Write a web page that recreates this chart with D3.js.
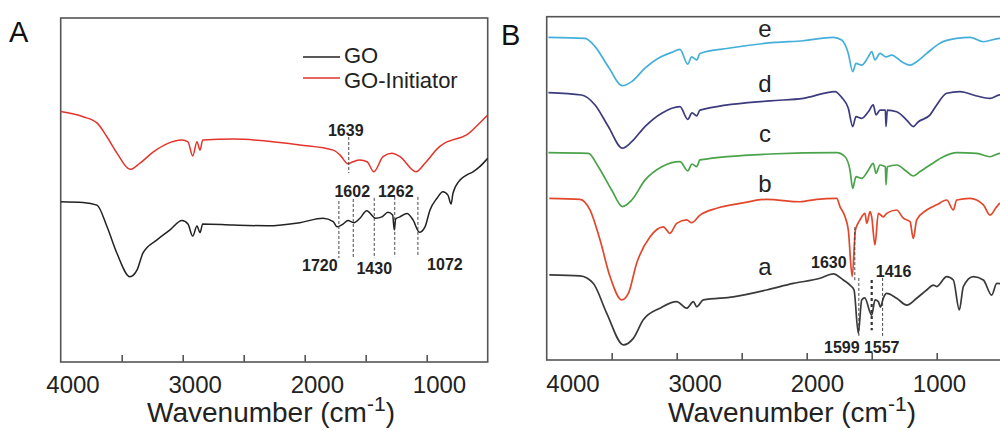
<!DOCTYPE html>
<html>
<head>
<meta charset="utf-8">
<script src="https://cdn.jsdelivr.net/npm/d3@7"></script>
<style>
  body { margin: 0; background: #fff; }
  svg { display: block; font-family: "Liberation Sans", Arial, sans-serif; }
</style>
</head>
<body>
<div id="chart"></div>
<script>
// FTIR spectra, [wavenumber, transmittance (a.u.)]
var goSpectrum = [[4000,46.6],[3817,46.4],[3703,45.6],[3620,39.3],[3540,31.7],[3432,24.8],[3375,26.7],[3325,31.7],
  [3211,35.5],[3104,38.4],[3006,41.1],[2957,40.1],[2918,36.6],[2883,39.5],[2858,37.6],[2836,40.1],[2586,39.8],
  [2309,39.6],[2040,40.5],[1850,41.8],[1766,40.8],[1735,39.3],[1686,40.1],[1645,41.1],[1597,40.5],[1547,41.8],
  [1492,44.0],[1418,41.8],[1367,42.2],[1318,43.5],[1279,42.7],[1266,38.4],[1254,41.6],[1219,42.2],[1161,43.2],
  [1112,41.3],[1060,37.7],[1014,39.3],[973,44.2],[916,47.6],[867,49.5],[826,48.5],[800,45.9],[785,49.0],
  [727,52.9],[670,54.4],[621,55.3],[565,56.8],[500,59.2]];
var goInitSpectrum = [[4000,72.8],[3817,71.3],[3703,69.5],[3620,65.4],[3540,60.8],[3432,56.0],[3350,57.8],[3243,61.0],
  [3130,63.4],[3006,64.5],[2957,64.0],[2918,59.9],[2883,64.0],[2858,61.6],[2836,64.5],[2586,64.8],[2040,63.1],
  [1766,61.6],[1711,60.2],[1645,57.6],[1604,58.2],[1547,58.7],[1489,58.2],[1433,55.3],[1358,59.7],[1285,60.7],
  [1219,59.7],[1088,55.3],[1014,57.8],[895,62.6],[835,64.0],[793,64.5],[673,66.0],[565,69.5],[500,71.8]];

var specA = [[3980,24.8],[3744,24.5],[3641,22.3],[3538,13.6],[3410,4.4],[3334,6.3],[3257,11.7],[3128,15.1],[3000,17.0],
  [2923,15.1],[2872,17.0],[2846,15.5],[2795,17.5],[2564,18.4],[2308,20.4],[2103,22.3],[1897,23.8],[1795,25.1],
  [1718,23.3],[1667,21.8],[1636,20.4],[1603,7.8],[1577,17.5],[1554,18.1],[1500,13.1],[1474,17.5],[1449,17.0],
  [1433,15.4],[1410,18.1],[1385,19.4],[1308,18.0],[1231,16.0],[1154,18.0],[1077,20.4],[1026,21.8],[1000,21.4],
  [923,24.3],[872,23.3],[826,14.6],[795,21.4],[718,24.3],[641,23.3],[577,18.9],[538,22.3],[450,22.0]];
var specB = [[3980,47.1],[3744,46.8],[3667,43.7],[3590,35.0],[3513,24.3],[3423,17.5],[3372,19.4],[3308,28.2],[3205,35.9],
  [3103,38.8],[3052,36.9],[3000,39.8],[2923,40.8],[2885,40.0],[2821,42.2],[2692,44.2],[2513,45.6],[2308,46.8],
  [2051,46.1],[1923,46.8],[1769,47.1],[1744,44.7],[1705,41.7],[1680,37.9],[1650,24.3],[1625,37.9],[1590,40.8],
  [1552,42.7],[1538,39.8],[1513,43.2],[1500,41.7],[1475,33.5],[1449,42.7],[1411,41.7],[1385,42.7],[1308,43.7],
  [1257,41.3],[1205,40.3],[1180,35.4],[1154,40.8],[1077,43.7],[1000,45.2],[923,46.6],[872,43.7],[846,46.6],
  [744,47.1],[641,45.2],[590,42.2],[538,44.7],[513,45.6],[450,45.0]];
var specC = [[3987,60.4],[3680,60.2],[3603,56.3],[3500,49.5],[3418,44.7],[3346,46.6],[3244,52.4],[3115,56.3],[2975,57.8],
  [2915,55.1],[2882,57.1],[2846,56.3],[2821,58.3],[2282,60.0],[1769,60.4],[1705,59.2],[1667,55.3],[1646,50.0],
  [1621,53.4],[1577,52.9],[1526,55.3],[1488,57.3],[1467,54.4],[1436,56.8],[1395,56.3],[1390,51.0],[1380,56.3],
  [1308,56.8],[1231,54.9],[1180,53.6],[1128,54.9],[1051,56.8],[949,59.2],[846,60.4],[692,60.2],[590,59.2],
  [515,60.2],[450,60.0]];
var specD = [[3987,77.9],[3731,77.2],[3628,74.3],[3526,68.0],[3418,61.7],[3346,63.6],[3244,68.0],[3115,71.9],[2975,73.8],
  [2915,70.1],[2882,72.0],[2846,71.1],[2821,72.8],[2282,75.5],[2026,76.2],[1782,78.2],[1731,76.5],[1680,73.3],
  [1646,68.0],[1621,70.9],[1577,70.4],[1526,72.3],[1488,74.3],[1467,71.4],[1436,72.8],[1395,72.8],[1390,68.0],
  [1380,72.8],[1308,72.3],[1231,69.9],[1180,68.0],[1141,69.4],[1051,71.4],[1000,74.3],[923,77.7],[821,78.2],
  [692,76.9],[590,76.2],[515,77.2],[450,77.0]];
var specE = [[3987,94.0],[3705,93.7],[3628,91.3],[3526,85.4],[3418,79.9],[3346,81.1],[3244,85.0],[3142,87.9],[3038,89.6],
  [2975,90.5],[2915,86.2],[2885,88.3],[2846,87.4],[2821,89.3],[2603,90.8],[2244,92.5],[2026,93.0],[1795,94.0],
  [1731,93.2],[1680,89.3],[1646,84.0],[1621,86.4],[1577,85.9],[1526,88.3],[1500,89.8],[1475,87.4],[1436,89.3],
  [1390,88.3],[1346,88.8],[1269,86.9],[1205,85.9],[1154,86.9],[1077,89.3],[975,92.3],[846,93.7],[744,94.0],
  [641,92.7],[515,93.7],[450,93.5]];

var seriesNamesA = ["GO", "GO-Initiator"];
var sampleNamesB = ["a", "b", "c", "d", "e"];
var sampleLabelT = [24.8, 49.0, 63.5, 78.1, 94.1];

var tickMarks = [3500, 3000, 2500, 2000, 1500, 1000];
var tickLabels = [4000, 3000, 2000, 1000];

// peak marks: line wavenumber, label, line top/bottom and label baseline (a.u.), label dx (px)
var peaksA = [
  {wn: 1639, text: "1639", top: 65.4, bottom: 54.9, ly: 65.6, dx: -3},
  {wn: 1720, text: "1720", top: 46.8, bottom: 30.2, ly: 26.5, dx: -19},
  {wn: 1602, text: "1602", top: 47.4, bottom: 30.2, ly: 48.0, dx: -1},
  {wn: 1430, text: "1430", top: 47.7, bottom: 30.2, ly: 25.6, dx: 0},
  {wn: 1262, text: "1262", top: 48.0, bottom: 30.5, ly: 48.0, dx: 1},
  {wn: 1072, text: "1072", top: 48.0, bottom: 31.1, ly: 26.7, dx: 27}
];
var peaksB = [
  {wn: 1630, text: "1630", top: 38.7, bottom: 22.7, ly: 26.9, dx: -26, thick: false},
  {wn: 1599, text: "1599", top: 23.9, bottom: 6.7, ly: 2.1, dx: -17, thick: false},
  {wn: 1500, text: "1557", top: 23.3, bottom: 8.7, ly: 2.1, dx: 10, thick: true},
  {wn: 1416, text: "1416", top: 23.9, bottom: 7.0, ly: 24.2, dx: 11, thick: false}
];

var svg = d3.select("#chart").append("svg")
  .attr("width", 1000)
  .attr("height", 431);

svg.append("rect").attr("width", 1000).attr("height", 431).attr("fill", "#fff");

function drawPanel(o) {
  var x = d3.scaleLinear().domain([4000, 500]).range([o.left, o.right]);
  var y = d3.scaleLinear().domain([0, 100]).range([o.bottom, o.top]);

  var g = svg.append("g");

  // frame
  g.append("rect")
    .attr("x", o.left).attr("y", o.top)
    .attr("width", o.frameRight - o.left).attr("height", o.bottom - o.top)
    .attr("fill", "none").attr("stroke", "#555").attr("stroke-width", 1.6);

  // inward ticks
  var ax = g.append("g")
    .attr("transform", "translate(0," + o.bottom + ")")
    .call(d3.axisBottom(x).tickValues(tickMarks).tickSize(-7).tickFormat(""));
  ax.select(".domain").remove();
  ax.selectAll("line").attr("stroke", "#555").attr("stroke-width", 1.6);

  // tick labels (sit a little right of the ticks, as in the figure)
  var xl = d3.scaleLinear().domain([4000, 1000]).range([o.origin + 72.5, o.origin + 439]);
  var al = g.append("g")
    .attr("transform", "translate(0," + o.labelY + ")")
    .call(d3.axisBottom(xl).tickValues(tickLabels).tickSize(0).tickPadding(0).tickFormat(d3.format("d")));
  al.select(".domain").remove();
  al.selectAll("text")
    .attr("font-size", 24).attr("fill", "#222")
    .attr("font-family", "Liberation Sans, Arial, sans-serif")
    .attr("dy", 0);

  // axis title
  var t = g.append("text")
    .attr("x", o.titleX).attr("y", 422)
    .attr("text-anchor", "middle")
    .attr("font-size", 28).attr("fill", "#222");
  t.append("tspan").text("Wavenumber (cm");
  t.append("tspan").attr("font-size", 21).attr("dy", -11).text("-1");
  t.append("tspan").attr("dy", 11).text(")");

  // panel letter
  g.append("text")
    .attr("x", o.origin + o.letterDx).attr("y", o.letterY)
    .attr("font-size", 29).attr("fill", "#111")
    .text(o.letter);

  var line = d3.line()
    .x(function(d) { return x(d[0]); })
    .y(function(d) { return y(d[1]); })
    .curve(d3.curveMonotoneX);

  var clip = "clip" + o.letter;
  svg.append("clipPath").attr("id", clip)
    .append("rect").attr("x", o.left).attr("y", o.top)
    .attr("width", o.frameRight - o.left).attr("height", o.bottom - o.top);

  o.series.forEach(function(s) {
    g.append("path")
      .datum(s.data)
      .attr("d", line)
      .attr("clip-path", "url(#" + clip + ")")
      .attr("fill", "none")
      .attr("stroke", s.color)
      .attr("stroke-width", o.lineWidth)
      .attr("stroke-linejoin", "round");
  });

  o.peaks.forEach(function(p) {
    g.append("line")
      .attr("x1", x(p.wn)).attr("x2", x(p.wn))
      .attr("y1", y(p.top)).attr("y2", y(p.bottom))
      .attr("stroke", "#333")
      .attr("stroke-width", p.thick ? 2.2 : 0.9)
      .attr("stroke-dasharray", p.thick ? "3,3" : "3,2");
    g.append("text")
      .attr("x", x(p.wn) + p.dx).attr("y", y(p.ly))
      .attr("text-anchor", "middle")
      .attr("font-size", 16).attr("font-weight", "bold")
      .attr("fill", "#222")
      .text(p.text);
  });

  return {x: x, y: y, g: g};
}

// Panel A
var pA = drawPanel({
  origin: 0, letter: "A", letterDx: 9, letterY: 42,
  left: 60.7, right: 487.7, frameRight: 487.7, top: 18, bottom: 362,
  labelY: 393, titleX: 271,
  lineWidth: 1.5,
  series: [
    {data: goSpectrum, color: "#222"},
    {data: goInitSpectrum, color: "#e3342c"}
  ],
  peaks: peaksA
});

// legend for A
var legendColors = ["#222", "#e3342c"];
seriesNamesA.forEach(function(name, i) {
  pA.g.append("line")
    .attr("x1", 303).attr("x2", 340).attr("y1", 57 + i * 21).attr("y2", 57 + i * 21)
    .attr("stroke", legendColors[i]).attr("stroke-width", 1.5);
  pA.g.append("text")
    .attr("x", 344).attr("y", 63 + i * 25)
    .attr("font-size", 22).attr("fill", "#222")
    .text(name);
});

// Panel B
var colorsB = ["#3a3a3a", "#e2472c", "#4aa24a", "#3c3b7e", "#44b0da"];
var pB = drawPanel({
  origin: 500, letter: "B", letterDx: 1, letterY: 45,
  left: 546.7, right: 1001.7, frameRight: 1012, top: 16.7, bottom: 360,
  labelY: 391.5, titleX: 792,
  lineWidth: 1.7,
  series: [specA, specB, specC, specD, specE].map(function(d, i) {
    return {data: d, color: colorsB[i]};
  }),
  peaks: peaksB
});

sampleNamesB.forEach(function(name, i) {
  pB.g.append("text")
    .attr("x", pB.x(2321)).attr("y", pB.y(sampleLabelT[i]))
    .attr("text-anchor", "middle")
    .attr("font-size", 24).attr("fill", "#222")
    .text(name);
});
</script>
</body>
</html>
